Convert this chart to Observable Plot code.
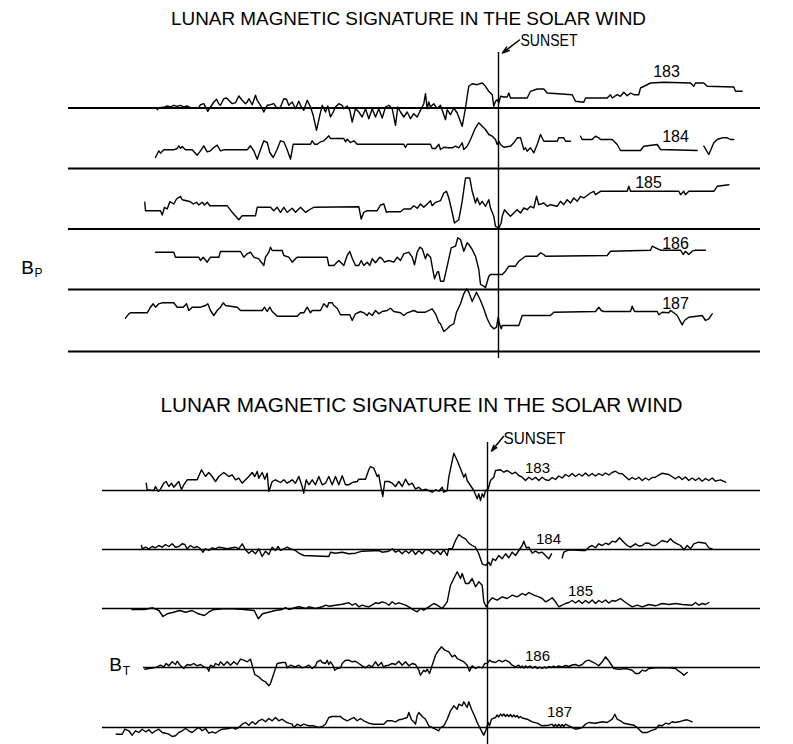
<!DOCTYPE html>
<html><head><meta charset="utf-8">
<script src="https://cdn.jsdelivr.net/npm/d3@7"></script>
<script src="https://cdn.jsdelivr.net/npm/@observablehq/plot@0.6"></script>
<style>
html,body{margin:0;padding:0;background:#fff;}
#wrap{position:relative;width:793px;height:744px;}
#wrap svg{position:absolute;left:0;top:0;}
</style></head>
<body><div id="wrap"></div>
<script>
// ---- DATA (time t relative to sunset, field value v relative to each trace's zero line) ----
const days = ["183","184","185","186","187"];
const titleText = "LUNAR MAGNETIC SIGNATURE IN THE SOLAR WIND";
const sunsetText = "SUNSET";
const bpBase = [0, -60.5, -121, -181.5, -243.5];   // stacking offsets, Bp panel
const btBase = [0, -59, -118, -177, -237];          // stacking offsets, BT panel
const bpLabelT = [168, 177, 150, 177, 177];
const bpLabelV = [36.5, 32, 46.5, 46, 48];
const btLabelT = [50, 61, 93, 50, 72];
const btLabelV = [22, 10, 17, 11, 15];
const bpExtent = [-430, 262];
const btStart = [-385, -385, -385, -344, -385];
const btEnd = 273;

// Bp traces: flat [t, v, t, v, ...]; null = data gap
const bp183 = [-341.3,-1.7,-339.7,0.3,-334.7,0.7,-331.3,2,-328,1,-324.7,2.7,-321.3,1.7,-318,2.7,-314.7,1,-311.3,2,-308,0.3,-304.7,0,-299.7,0.3,-298,3.3,-294.7,4.3,-290.7,-3.3,-288,1,-284.7,6,-282,8.7,-279.7,4.3,-278,2.7,-274.7,9.3,-272,10,-269.7,7.7,-266.3,4.3,-263,5.3,-259.7,12,-256.3,7.7,-253,4.3,-251.3,6,-249.7,9.3,-246.3,3.3,-243,12.7,-241.3,7.7,-238,2.7,-234.7,-4,-231.3,2.7,-228,3.3,-224.7,4.3,-221.3,-0.7,-218,1,-214.7,9.3,-212,8.7,-209.7,2.7,-206.3,6,-203,-0.7,-199.7,6.7,-198,2.7,-194.7,-2.3,-191.3,7.7,-188,1,-185.3,-7.3,-182,-22.3,-178.7,-7.3,-176.3,2.7,-173,-4,-170.7,2,-168,-9,-165.3,-4,-163,1,-159.7,4.3,-156.3,2.7,-154.7,-0.7,-151.3,2,-148.7,-2.3,-146.3,-14,-143,-0.7,-139.7,-4,-136.3,-9,-133,-0.7,-129.7,-10.7,-126.3,-0.7,-123,-9,-119.7,-0.7,-116.3,-10,-113,1,-109.7,2.7,-106.3,-0.7,-103,-17.3,-100.7,1,-98,-4,-94.7,-9,-91.3,-4,-88,-10.7,-84.7,-5.7,-81.3,-9,-78,-2.3,-74.7,4.3,-73,14.3,-71.3,-0.7,-69.7,6,-68,1,-64.7,4.3,-61.3,-0.7,-58,2.7,-53,-11.7,-51.3,-1.7,-48,-6.7,-44.7,0,-41.3,-5,-36.3,-18.3,-33,0,-31.3,11.7,-29.7,21.7,-26.3,24.3,-21.3,23.3,-16.3,25,-13,21.7,-9.7,16.7,-6.3,13.3,-4.7,1.7,-3,6.7,-1.3,8.3,0.3,5,2,11.7,5.3,11,8.7,11,10.3,15,12,10,28.7,10,32,16.7,38.7,19,45.3,19,48.7,15,73.7,13.3,77,6.7,85.3,5.7,87,10,108.7,10,112,13.3,113.7,10,118.7,13.3,122,11.7,125.3,15.7,128.7,12.3,132,15,135.3,13.3,140.3,13.3,142,20,152,25,165.3,25.7,192,25,195.3,21.7,197,25,205.3,25,208.7,21.7,235.3,21,237,16.7,243.7,16.7];
const bp184 = [-343,11,-339.7,17.7,-338,15.3,-334.7,18.7,-324.7,18.7,-321.3,20,-319.7,22.7,-318,20,-316.3,22,-313,18.7,-306.3,18.7,-301.3,13.3,-298,17.7,-294.7,22.7,-291.3,16.7,-288,17.7,-284.7,21,-281.3,23.3,-278,17.7,-274.7,18.7,-251.3,18.7,-248,22.7,-244.7,17.7,-241.3,9.3,-238,18.7,-234.7,27.7,-231.3,26,-228.7,16,-225.3,11,-221.3,19.3,-218,27.7,-214.7,26.7,-211.3,18.7,-208,9.3,-205.3,24.3,-188,24.3,-186.3,27.7,-184,24.3,-181.3,24.3,-178,26.7,-174.7,27.7,-171.3,31,-169.7,32.7,-168,30,-154.7,30,-153,26.7,-151.3,29.3,-148,26,-144.7,27.7,-141.3,24.3,-94.7,24.3,-93,21,-91.3,24.3,-68,24.3,-66.3,20,-63,20,-59.7,24.3,-58,19,-54.7,21.3,-49.7,20.7,-46.3,20.7,-43,22.3,-39.7,20.7,-36.3,25.7,-34.7,19,-31.3,22.3,-28,29,-23,40.7,-19.7,45.7,-16.3,42.3,-13,39,-9.7,34,-6.3,32.3,-3,29,-1.3,24,0.3,27.3,2,24,5.3,21.3,12,22.3,15.3,25.7,18.7,30.7,22,30.7,25.3,19,27,20.7,28.7,17.3,32,20.7,35.3,15.7,38.7,24,42,34,45.3,27.3,58.7,27.3,60.3,30.7,65.3,30.7,67,27.3,72,27.3,77,null,82,32.3,83.7,29,93.7,29,95.3,30.7,97,32.3,100.3,30.7,102,29,113.7,29,118.7,24,122,18,142,18,145.3,22.3,158.7,24,162,19,198.7,18,202,null,205.3,22.3,210.3,14,215.3,25.7,218.7,29,223.7,30.7,228.7,30.7,232,29,235.3,29];
const bp185 = [-353.7,26.7,-353,18.3,-338,18.3,-336.3,14,-334,21.7,-331.3,20,-328.7,27.3,-324.7,25,-322,30,-318,32.7,-316.3,29.3,-312,28.3,-308,27.3,-305.3,25,-302,26.7,-299.7,24,-296.3,26.7,-294,24,-291.3,26.7,-288.7,23.3,-271.3,23.3,-266.3,16.7,-259.7,9.3,-256.3,13.3,-243,13.3,-241.3,21.7,-228,21.7,-224.7,18.3,-221.3,21.7,-218,16.7,-214.7,21.7,-211.3,16.7,-206.3,20.7,-203,16.7,-198,21.7,-193,16.7,-188,20,-184.7,21.7,-139.7,22.3,-137.3,10,-134.7,16.7,-131.3,18.3,-121.3,18.3,-118,24,-114.7,25,-112,16.7,-109.7,17.3,-98,17.3,-94.7,20,-88,20,-84.7,23.3,-81.3,20.7,-78,25,-74.7,21.7,-71.3,25,-68,28.3,-66.3,23.3,-63,26.7,-58,28.3,-54.7,36,-52,37.7,-49.7,31,-47.3,21,-44,6,-39.7,9.3,-36.3,27.7,-34.7,39.3,-33,51,-28.7,51,-26.3,37.7,-23,26,-21.3,31,-18.7,24.3,-16.3,27.7,-13,22.7,-9.7,29.3,-8,21,-4.7,12.7,-3,2.7,0.3,1,2.7,6,3.7,12.7,6,19.3,8.7,16,12,12.7,15.3,16,18.7,19.3,22,16,25.3,21,28.7,19.3,32,22.7,35.3,21,38,32.7,40.3,24.3,45.3,26,48.7,22.7,52,24.3,58.7,22.7,62,27.7,65.3,24.3,68.7,29.3,72,26,75.3,31,78.7,27.7,82,32.7,85.3,31,92,36,95.3,37.7,97,34.3,102,37.7,128.7,37.7,130.3,42.7,132,37.7,180.3,37.7,182,34.3,185.3,37.7,187,34.3,190.3,37.7,215.3,37.7,218.7,42.7,230.3,44.3];
const bp186 = [-343,37.3,-324.7,37.3,-323,32.3,-299.7,32.3,-298,29,-295.3,32.3,-291.3,27.3,-288,32.3,-279.7,32.3,-278,38,-258,38,-254.7,32.3,-251.3,35.7,-248,37.3,-244.7,32.3,-239.7,30.7,-234.7,24,-233,32.3,-229.7,37.3,-228,42.3,-226.3,39,-216.3,39,-214.7,34,-209.7,32.3,-206.3,27.3,-203,30.7,-201.3,32.3,-171.3,32.3,-169.7,24,-164.7,24,-159.7,29,-154.7,24,-151.3,34,-148.7,38,-146.3,31.3,-143,24,-139.7,24,-137.3,29,-134.7,24,-131.3,27.3,-128.7,24,-126.3,30.7,-123,26.7,-118.7,32.3,-116.3,30.7,-114,27.3,-109.7,29,-104.7,27.3,-101.3,32.3,-98,29,-94.7,35.7,-89.7,37.3,-86.3,32.3,-84,24.7,-81.3,37.3,-78.7,42.3,-76.3,40.7,-73,30.7,-71.3,35.7,-68,32.3,-64,10.7,-61.3,17.3,-60,18,-58,8.3,-54.7,8.3,-51.3,23.3,-47.3,41.7,-43,43.3,-40.7,51.7,-38,50,-34.7,38.3,-31.3,46.7,-29.7,45,-26.3,40,-23,33.3,-19.7,20,-18,5,-14.7,3.3,-13,1.7,-9.7,13.3,-8,15,3.7,15,7,18.3,10.3,23.3,17,23.3,20.3,28.3,27,33.3,38.7,33.3,42,36.7,45.3,35,47,33.3,108.7,34,112,38.3,152,39.3,153.7,43.3,157,41.7,162,39.3,182,39.3,184.7,35,187,38.3,190.3,35,193.7,38.3,197,39.3,207,39.3];
const bp187 = [-373,33.3,-369.7,37.7,-368,38.7,-351.3,38.7,-348,44.3,-345.3,47.7,-343,44.3,-339.7,47.7,-336.3,48.7,-324.7,48.7,-321.3,44.3,-315.3,44.3,-312,47.7,-309.7,41,-306.3,44.3,-298,44.3,-293,46,-290.7,47.7,-288,41,-284.7,36,-281.3,41,-278,44.3,-275.3,48.7,-273,46,-261.3,44.3,-258,41,-236.3,41,-234,44.3,-231.3,40,-228.7,44.3,-226.3,40,-221.3,35.3,-201.3,35.3,-198,38.7,-194.7,38.7,-191.3,44.3,-188,38.7,-186.3,41,-178,41,-174.7,47.7,-171.3,44.3,-169.7,48.7,-166.3,48.7,-164.7,46,-161.3,43.3,-158,36.7,-148.7,36.7,-146.3,31,-143,37.7,-138,40,-134.7,38.7,-131.3,36,-129.7,38.7,-126.3,36,-123,41,-119.7,37.7,-116.3,40,-111.3,41,-108,43.3,-104.7,40,-98,38.7,-94.7,36,-91.3,38.7,-84.7,41,-81.3,39.3,-73,39.3,-69.7,41,-66.3,42.7,-63,37.7,-59.7,29.3,-58,27.7,-54.7,20,-51.3,22.7,-48,26,-44.7,27.7,-42,39.3,-38,47.7,-34.7,57.7,-32,62.7,-29.7,59.3,-26.3,50,-22,59.3,-18,51,-14.7,42.7,-11.3,32.7,-8,26,-4.7,22.7,-2,24.3,-0.3,34.3,1,27.7,2.7,22.7,3.7,26,20.3,26,23.7,36,52,36,55.3,39.3,97,40,100.3,44.3,102.7,41,105.3,40,132,40,133.7,45.3,136,40,158.7,40,160.3,36.7,163.7,39.3,170.3,38.7,172,41,175.3,38.7,178.7,36,183.7,26.7,186,31,190.3,34.3,203.7,36,207,31,210.3,32.7,213.7,37.7];

// BT traces
const bt183 = [-341.3,7.3,-340.3,0.7,-333.7,0,-332,4,-329.3,-1,-327,1.3,-323.7,7.3,-321.3,9,-318.7,4,-316,7.3,-313.7,3.3,-310.3,7.3,-308.7,9,-306,0.7,-303.7,5.7,-300.3,10.7,-290.3,10.7,-286,20.7,-282,14,-278.7,18,-275.3,14,-272,9,-268.7,14,-263.7,18,-258.7,14,-255.3,15.7,-252,10.7,-248.7,12.3,-245.3,7.3,-242,10.7,-238.7,14,-235.3,18,-232.7,14,-230.3,19,-228.7,12.3,-225.3,18,-222.7,11.3,-220.3,17.3,-218.7,-1,-215.3,9,-212,10.7,-207,8,-203.7,10.7,-200.3,7.3,-195.3,10.7,-192,7.3,-188.7,14,-185.3,4,-183.7,-2.7,-181.3,10.7,-178.7,5.7,-175.3,10.7,-172,5.7,-168.7,14,-165.3,5.7,-162,7.3,-158.7,14,-155.3,5.7,-152,14,-148.7,5.7,-145.3,14.7,-142,5.7,-138.7,5.7,-135.3,8,-130.3,9,-128.7,11.3,-122,11.3,-118.7,20.7,-117,24,-113.7,22.3,-110.3,14,-108.7,15.7,-107,5.7,-104.7,-6,-102.7,9,-98.7,9,-95.3,7.3,-92,4,-88.7,9,-85.3,4,-82,11.3,-78.7,5.7,-75.3,7.3,-72,1.3,-68.7,3.3,-65.3,0,-62,1.3,-55.3,-1.7,-52,0.7,-48.7,-0.7,-45.3,3.3,-43.7,-1.7,-40.3,0,-38.7,13.3,-33.7,37.3,-30.3,30,-27,21.7,-23.7,13.3,-22,16.7,-20.3,10,-17,5,-13.7,0,-10.3,-8.3,-8.7,-3.3,-7,-10,-5.3,-3.3,-3.7,-6.7,-2,0,0.7,1.7,3,10,6.3,13.3,8,20,13,20.7,16.3,18.3,19.7,20,24.7,16.7,28,18.3,31.3,15,34.7,13.3,38,10,41.3,13.3,44.7,10.7,48,13.3,51.3,10,54.7,13.3,58,10.7,61.3,10,64.7,13,68,11,71.3,14.5,74.7,12.5,78,16,81.3,14,84.7,17,88,14,91.3,16.5,94.7,14.5,98,17.5,101.3,14.5,104.7,17,108,14.5,111.3,17,114.7,15,118,17.5,121.3,15.5,124.7,18,128,19.3,131.3,17,134.7,16.7,141.3,10.7,144.7,13,148,11,151.3,13.3,154.7,10,158,12.5,161.3,10.5,164.7,13,168,13.3,174.7,17.3,181.3,16,188,11.7,191.3,14,194.7,11,198,13.5,201.3,10,204.7,12.5,208,10,211.3,12.5,214.7,9.3,218,12,221.3,10,224.7,12.5,228,9.3,233,10.7,238,8.3];
const bt184 = [-346,4,-345.3,0.7,-342,2.3,-338.7,0.7,-335.3,3,-332,1.7,-328.7,4,-325.3,2.3,-322,5,-318.7,3,-315.3,5.7,-312,2.3,-308.7,3,-305.3,5.7,-302.7,5,-300.3,0.7,-297,4,-293.7,1.7,-290.3,3,-287,0.7,-284.7,-2.7,-282,0.7,-278.7,-1,-275.3,1.7,-272,0.7,-268.7,2.3,-265.3,1.7,-260.3,0.7,-255.3,1.7,-252,2.3,-248.7,0.7,-245.3,5.7,-242,-0.3,-238.7,-3.7,-235.3,-1,-232,-4.3,-228.7,0.7,-225.3,-7,-222,-1.7,-218.7,-5,-215.3,2.3,-212,-1,-209.3,3,-207,-1,-203.7,0.7,-200.3,2.3,-197,0.7,-192,-1,-188.7,-3.7,-183.7,-6,-158.7,-7,-157,-2.7,-152,-3.7,-145.3,-2.7,-138.7,-4.3,-132,-3.7,-125.3,-1.7,-108.7,-1,-105.3,-2.7,-98.7,-1.7,-95.3,0.7,-92,-2.7,-88.7,-1,-85.3,-4.3,-82,-1,-78.7,-3.7,-75.3,-0.3,-72,-5,-68.7,-1,-65.3,-4.3,-62,-0.3,-58.7,-0.3,-53.7,-4.3,-50.3,-1,-47,-5,-43.7,-0.3,-40.3,-6,-38.7,0.7,-35.3,0.7,-32,9,-28.7,15,-25.3,12.3,-22,10.7,-18.7,6.3,-15.3,4,-12,2.3,-8.7,-4.3,-5.3,-14.3,-2,-16,1.3,-12.7,3,-16,5.3,-9.3,8,-11,11.3,-6,14.7,-9.3,18,-4.3,21.3,-8.3,24.7,-2.7,28,-6,31.3,-1,34.7,4,36.3,8.3,38.7,1.7,41.3,2.3,44.7,-3.7,48,-1.7,51.3,-3.7,54.7,-2.7,58,-6,61.3,-9.3,64,-4.3,69,null,74.7,-8.3,76.3,-2.7,81.3,-0.3,94.7,-1,98,-1,101.3,2.3,104.7,4,108,1.7,111.3,5.7,114.7,4,118,6.3,121.3,5,124.7,8.3,128,7.3,132,11.7,136.3,7.3,139.7,4,143,2.3,148,5.7,151.3,3.5,154.7,4,158,6.5,161.3,6.3,164.7,4,168,4,171.3,6.5,174.7,9,179.7,7.3,183,10.7,186.3,7.3,189.7,5.7,193,4,196.3,-0.3,199.7,4,203,0.7,206.3,5.7,211.3,7.3,218,6.3,221.3,1.7,224.7,0.7];
const bt185 = [-355.5,-1,-343,-1,-334.8,0.7,-328.6,-2,-324.5,-8,-320.3,-5.3,-314.1,-3.7,-307.9,-2,-301.7,-3.7,-295.4,-2,-289.2,-5.3,-283,-7,-278.9,-3.7,-274.7,-1.3,-264.4,-0.3,-254,-0.3,-243.6,-1,-233.3,-2,-229.1,-10.3,-225,-5.3,-218.8,-3.7,-212.5,-2,-205.3,-1,-202,1,-198.7,-1,-195.3,0,-192,1,-188.7,1.7,-185.3,1,-182,0,-178.7,1.7,-172,0,-165.3,1.7,-162,3.3,-158.7,2.3,-152,3.3,-145.3,4.3,-138.7,5.7,-135.3,3.3,-132,5,-128.7,1.7,-125.3,3.3,-122,2.3,-118.7,1.7,-112,5.7,-108.7,5,-105.3,6.7,-102,5.7,-98.7,3.3,-95.3,6.7,-92,4.3,-88.7,5.7,-82,3.3,-78.7,1.7,-73.7,-1.7,-70.3,-3.3,-67,0,-63.7,-1.7,-58.7,1.7,-53.7,5,-50.3,3.3,-45.3,0,-40.3,6.7,-37,23.3,-33.7,30,-30.3,36.7,-27,30,-25.3,35,-22,25,-18.7,25,-15.3,30,-12,21.7,-8.7,26.7,-5.3,23.3,-3.7,6.7,-1.3,1.7,1.3,6.7,4.7,10.7,9.7,8.3,14.7,11.7,19.7,10,24.7,13.3,29.7,11.7,34.7,15,38,13.3,41.3,16,46.3,13.3,51.3,11.7,54.7,10,58,6.7,61.3,8.3,64.7,10.7,68,6.7,71.3,1.7,74.7,3.3,78,5,81.3,6,84.7,8,88,5.5,91.3,8,94.7,5,98,8,101.3,5.5,104.7,8.5,108,5,111.3,8,114.7,6,118,8.5,121.3,5.5,124.7,8,128,7.3,133,10,138,6,144.7,1.7,149.7,3.3,154.7,1.7,161.3,4,168,2.7,174.7,5,181.3,4,188,5,194.7,4,204.7,3.3,208,6,211.3,3.3,214.7,5,218,4,221.3,6];
const bt186 = [-342.7,-1.7,-338.7,-1,-333.7,-0.3,-330.3,0.7,-327,2.3,-323.7,0.7,-321.3,4,-318.7,1.7,-315.3,5.7,-312,3,-310.3,6.3,-307,1.7,-303.7,-1,-300.3,3,-297,2.3,-293.7,4,-290.3,1.7,-287,3,-283.7,0.7,-280.3,-0.3,-278.7,-3.7,-277,2.3,-273.7,0.7,-272,4,-268.7,2.3,-267,5.7,-263.7,2.3,-260.3,5.7,-257,2.3,-253.7,5.7,-250.3,3,-247,8.3,-243.7,7.3,-240.3,5.7,-237,8.3,-235.3,2.3,-232.7,-7,-228.7,-9.3,-225.3,-12.7,-222,-14.3,-218.7,-18.3,-217,-16,-213.7,-6,-210.3,4,-205.3,5,-202,5,-200.3,-0.3,-197,2.3,-192,0.7,-188.7,2.3,-185.3,-0.3,-182,0.7,-178.7,2.3,-175.3,-1,-172,1.7,-170.3,5.7,-167,7.3,-165.3,5,-162,4,-160.3,7.3,-158.7,3,-157,5.7,-154.7,2.3,-152.7,-2.7,-150.3,-1,-147,-0.3,-145.3,4,-142,7.3,-138.7,7.3,-135.3,5.7,-132,6.3,-128.7,4,-125.3,1.7,-122,-0.3,-118.7,2.3,-115.3,0.7,-112,5.7,-109.3,1.7,-106,5,-103.7,-0.3,-102,1.7,-98.7,2.3,-95.3,4,-92,3,-88.7,6.3,-85.3,2.3,-82,5.7,-78.7,1.7,-75.3,4,-72,3,-68.7,-2.7,-67,-7.7,-63.7,-2.7,-62,-4.3,-60.3,-1.7,-58,-6,-55.3,2.3,-52,12.3,-48.7,17.3,-46,20.7,-42.7,17.3,-38.7,15.7,-35.3,10.7,-32.7,12.3,-30.3,9,-27,7.3,-23.7,5.7,-20.3,2.3,-18,-3.7,-15.3,1.7,-12,-1,-8.7,0.7,-5.3,-0.3,-2.7,4,-0.3,4,2,7.3,4.7,5.7,8,5,11.3,7.3,14.7,5.7,18,7.3,21.3,5.7,24.7,2.3,28,0.7,31.3,2.3,33,0,34.7,1.5,36.5,-0.5,38,1.7,40,0,43,1.5,45,-0.5,48,1,50,-1,52,0.5,54.7,-1,57,0.5,59,-0.5,61.3,1,64,0,66,1.5,68,0.2,71,1.5,74.7,0.5,78,2,81.3,1,84.7,2.5,88,3,91.3,1.7,94.7,3,98,6.3,101.3,7.3,104.7,5.7,108,4,111.3,1.7,114.7,5.7,118,10.7,120.7,7.3,123,4,126.3,-1,131.3,-1.7,138,-1,144.7,-2.7,148,-6,151.3,-6,154.7,-2.7,158,-3.7,161.3,-1,168,-0.3,181.3,-0.3,188,-1,191.3,-3.7,194.7,-6,196.3,-7.7,199.7,-5];
const bt187 = [-371.3,-6.7,-365.3,-6.7,-362.7,-1.7,-358.7,-3.3,-355.3,-7.7,-352,-3.3,-348.7,-5,-345.3,-1.7,-342,-4.3,-338.7,-2.3,-335.3,-5.7,-332,-3.3,-328.7,-1.7,-325.3,-5,-322,-5.7,-318.7,-6.7,-315.3,-9,-312,-8.3,-308.7,-5,-305.3,-3.3,-302,-1,-298.7,-3.3,-295.3,-5,-292,-2.3,-288.7,0,-285.3,-3.3,-282,-1,-278.7,-5.7,-275.3,-4.3,-272,-5.7,-268.7,-3.3,-265.3,-1.7,-258.7,-1,-255.3,0,-252,-1.7,-248.7,0,-245.3,3.3,-242,5,-238.7,2.3,-235.3,5.7,-232,3.3,-228.7,6.7,-225.3,8.3,-222,5.7,-218.7,9,-215.3,6.7,-212,10,-208.7,6.7,-205.3,8.3,-202,5.7,-198.7,4.3,-195.3,3.3,-193.7,0,-190.3,3.3,-187,1.7,-183.7,3.3,-178.7,1.7,-173.7,1.7,-168.7,0,-165.3,1,-162,3.3,-158.7,10,-155.3,11,-147,11,-143.7,8.3,-140.3,6.7,-137,8.3,-133.7,10,-130.3,6.7,-127,9,-123.7,6.7,-118.7,4.3,-113.7,3.3,-103.7,3.3,-100.3,6.7,-95.3,6.7,-92,5.7,-88.7,7.7,-85.3,8.3,-80.3,10,-78.7,15,-76,7.7,-73.7,5.7,-72,3.3,-70.3,11.7,-68.7,15,-65.3,11,-62,8.3,-58.7,1.7,-55.3,0,-52,-1.7,-48.7,-3.3,-47,0,-43.7,1.7,-40.3,8.3,-37,16.7,-33.7,21.7,-30.3,18.3,-28.7,23.3,-25.3,21.7,-23.7,25.7,-20.3,20,-18.7,25.7,-16,18.3,-13.7,13.3,-10.3,5,-7,-1.7,-3.7,-7.7,-1.3,-1.7,0.7,5,2,1.7,4,8.3,8,10,9.7,12.5,11.3,10.5,13,13.5,14.7,11.5,16.3,13.5,18,11,19.7,13,21.3,11,23,13,24.7,10.5,26.3,12.5,28,10.5,29.7,12,31.3,9.5,33,11,34.7,9.5,39.7,8.3,44.7,5.7,49.7,4.3,54.7,1.7,61.3,2.3,64.7,3.3,66.3,1,68,3,69.7,1,71.3,3.3,73,1,74.7,3,76.3,1,78,3.3,81.3,1.7,84.7,0,88,-1.7,91.3,-1,94.7,0,98,3.3,101.3,5,108,4.3,114.7,5.7,119.7,5,124.7,8.3,127.3,13.3,129.7,8.3,133,6.7,136.3,4.3,141.3,3.3,146.3,2.3,149.7,0,154.7,-5,159.7,-5,163,-3.3,168,-1.7,171.3,2.3,174.7,1.7,178,4.3,181.3,3.3,184.7,5.7,188,5,191.3,5.7,194.7,6.7,199.7,7.7,204.7,5.7];

const bpTraces = [bp183, bp184, bp185, bp186, bp187];
const btTraces = [bt183, bt184, bt185, bt186, bt187];

(function () {
  function table(traces, base) {
    const out = [];
    traces.forEach((f, k) => {
      for (let i = 0; i < f.length; i += 2)
        out.push({day: days[k], t: f[i], y: f[i + 1] == null ? NaN : base[k] + f[i + 1]});
    });
    return out;
  }
  const labelRows = (T, V, base) => days.map((d, k) => ({day: d, t: T[k], y: base[k] + V[k]}));
  const btRules = days.map((d, k) => ({y: btBase[k], x1: btStart[k], x2: btEnd}));

  const FONT = "Liberation Sans, Arial, sans-serif";
  const common = {
    width: 793, height: 744, margin: 0,
    style: {background: "transparent", fontFamily: FONT, color: "black", overflow: "visible"}
  };
  const LW = 1.4;

  const bpChart = Plot.plot({
    ...common,
    x: {domain: [-498, 295], range: [0, 793], axis: null},
    y: {domain: [-243.5, 0], range: [351, 107.5], axis: null},
    marks: [
      Plot.ruleY(bpBase, {x1: bpExtent[0], x2: bpExtent[1], stroke: "black", strokeWidth: 2}),
      Plot.ruleX([0], {y1: 55.5, y2: -250.5, stroke: "black", strokeWidth: 1.4}),
      Plot.line(table(bpTraces, bpBase), {x: "t", y: "y", z: "day", stroke: "black", strokeWidth: LW, strokeLinejoin: "round"}),
      Plot.text(labelRows(bpLabelT, bpLabelV, bpBase), {x: "t", y: "y", text: "day", fontSize: 16, fill: "black"}),
      Plot.arrow([0], {x1: 21, y1: 68, x2: 4, y2: 55, stroke: "black", strokeWidth: 1.5, headLength: 8, headAngle: 35}),
      Plot.text([sunsetText], {x: 22, y: 67.5, text: d => d, textAnchor: "start", fontSize: 16, fill: "black"}),
      Plot.text([titleText], {x: -90, y: 89.5, text: d => d, fontSize: 19, fill: "black"}),
      Plot.text(["B"], {x: -471, y: -159.5, text: d => d, fontSize: 19, fill: "black"}),
      Plot.text(["P"], {x: -460, y: -165.5, text: d => d, fontSize: 12, fill: "black"})
    ]
  });

  const btChart = Plot.plot({
    ...common,
    x: {domain: [-487, 306], range: [0, 793], axis: null},
    y: {domain: [-237, 0], range: [727, 490], axis: null},
    marks: [
      Plot.ruleY(btRules, {y: "y", x1: "x1", x2: "x2", stroke: "black", strokeWidth: 1.6}),
      Plot.ruleX([0], {y1: 48, y2: -254, stroke: "black", strokeWidth: 1.4}),
      Plot.line(table(btTraces, btBase), {x: "t", y: "y", z: "day", stroke: "black", strokeWidth: LW, strokeLinejoin: "round"}),
      Plot.text(labelRows(btLabelT, btLabelV, btBase), {x: "t", y: "y", text: "day", fontSize: 15, fill: "black"}),
      Plot.arrow([0], {x1: 16, y1: 54, x2: 4, y2: 39.5, stroke: "black", strokeWidth: 1.5, headLength: 8, headAngle: 35}),
      Plot.text([sunsetText], {x: 16, y: 52, text: d => d, textAnchor: "start", fontSize: 17, fill: "black"}),
      Plot.text([titleText], {x: -66, y: 85, text: d => d, fontSize: 20, fill: "black"}),
      Plot.text(["B"], {x: -372, y: -174, text: d => d, fontSize: 19, fill: "black"}),
      Plot.text(["T"], {x: -361, y: -181, text: d => d, fontSize: 12, fill: "black"})
    ]
  });

  function fit(svg, str, len) {
    svg.querySelectorAll("text").forEach(el => {
      if (el.textContent === str) { el.setAttribute("textLength", len); el.setAttribute("lengthAdjust", "spacingAndGlyphs"); }
    });
  }
  fit(bpChart, titleText, 475); fit(bpChart, sunsetText, 57);
  fit(btChart, titleText, 522); fit(btChart, sunsetText, 62);

  const wrap = document.getElementById("wrap");
  wrap.appendChild(btChart);
  wrap.appendChild(bpChart);
})();
</script></body></html>
